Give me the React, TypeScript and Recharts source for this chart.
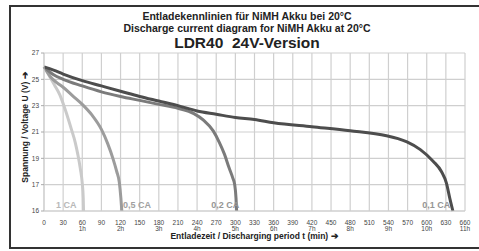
import React from "react";
import {
  LineChart,
  Line,
  XAxis,
  YAxis,
  CartesianGrid,
  ReferenceDot,
} from "recharts";

// discharge curves: time (min) / voltage (V)
const oneCaT = [0, 8, 16, 25, 34, 43, 49, 53, 57, 60, 61.5, 62];
const oneCaV = [25.95, 25.3, 24.6, 23.8, 22.6, 21.2, 20.2, 19.3, 18.2, 17.1, 16.5, 16];

const halfCaT = [0, 10, 20, 30, 45, 60, 75, 90, 100, 108, 114, 118, 120.5, 122];
const halfCaV = [25.95, 25.2, 24.75, 24.4, 23.75, 23.1, 22.3, 21.2, 20.1, 19.0, 18.0, 17.2, 16.5, 16];

const fifthCaT = [0, 15, 30, 60, 90, 120, 150, 180, 210, 235, 250, 265, 275, 283, 290, 296, 299, 301, 302];
const fifthCaV = [25.95, 25.35, 25.0, 24.5, 24.05, 23.7, 23.4, 23.1, 22.8, 22.4, 21.9, 21.1, 20.2, 19.3, 18.3, 17.5, 17.0, 16.5, 16];

const tenthCaT = [0, 15, 30, 60, 90, 120, 150, 180, 210, 240, 270, 300, 330, 360, 420, 480, 537, 555, 569, 590, 610, 623, 631, 636, 641];
const tenthCaV = [25.95, 25.7, 25.4, 24.9, 24.5, 24.1, 23.7, 23.35, 23.0, 22.6, 22.35, 22.1, 21.95, 21.7, 21.4, 21.1, 20.72, 20.5, 20.25, 19.66, 18.78, 18.0, 17.1, 16.5, 16];

const seriesNames = ["1 CA", "0,5 CA", "0,2 CA", "0,1 CA"];
const labelT = [35, 146, 284, 615];

const xTicks = [0, 30, 60, 90, 120, 150, 180, 210, 240, 270, 300, 330, 360, 390, 420, 450, 480, 510, 540, 570, 600, 630, 660];
const hourLabels = ["", "", "1h", "", "2h", "", "3h", "", "4h", "", "5h", "", "6h", "", "7h", "", "8h", "", "9h", "", "10h", "", "11h"];

// y axis is broken below 17 V: the 17..16 step takes the same height as 2 V
const yTicks = [15, 17, 19, 21, 23, 25, 27];
const yTickLabels = ["16", "17", "19", "21", "23", "25", "27"];

const toAxis = (v: number) => (v >= 17 ? v : 17 - 2 * (17 - v));
const build = (ts: number[], vs: number[]) => ts.map((t, i) => ({ t, v: toAxis(vs[i]) }));

const curves = [
  { data: build(oneCaT, oneCaV), color: "#cacaca", label: "#b8b8b8" },
  { data: build(halfCaT, halfCaV), color: "#9c9c9c", label: "#a0a0a0" },
  { data: build(fifthCaT, fifthCaV), color: "#7b7b7b", label: "#959595" },
  { data: build(tenthCaT, tenthCaV), color: "#4d4d4d", label: "#959595" },
];

const FONT = "'Liberation Sans Narrow', 'Liberation Sans', Arial, sans-serif";

const XTick = (props: any) => {
  const { x, y, payload } = props;
  const i = xTicks.indexOf(payload.value);
  return (
    <g>
      <text x={x} y={y + 6} textAnchor="middle" fontSize={6.5} fill="#444" fontFamily={FONT}>
        {payload.value}
      </text>
      {hourLabels[i] ? (
        <text x={x} y={y + 12} textAnchor="middle" fontSize={6.5} fill="#444" fontFamily={FONT}>
          {hourLabels[i]}
        </text>
      ) : null}
    </g>
  );
};

export default function App() {
  return (
    <div style={{ position: "relative", width: 479, height: 251, background: "#fff", fontFamily: FONT }}>
      <style>{`body{margin:0}`}</style>
      <LineChart
        width={479}
        height={251}
        margin={{ top: 53, right: 14, bottom: 0, left: 0 }}
        style={{ position: "absolute", left: 0, top: 0 }}
      >
        <CartesianGrid stroke="#cfcfcf" strokeWidth={1.2} />
        <XAxis
          type="number"
          dataKey="t"
          domain={[0, 660]}
          ticks={xTicks}
          interval={0}
          height={40}
          tick={<XTick />}
          tickLine={false}
          axisLine={{ stroke: "#cfcfcf" }}
          label={{
            value: "Entladezeit / Discharging period t (min) \u2794",
            position: "insideBottom",
            offset: 12,
            fontSize: 8.5,
            fontWeight: "bold",
            fill: "#222",
            fontFamily: FONT,
          }}
        />
        <YAxis
          type="number"
          dataKey="v"
          domain={[15, 27]}
          ticks={yTicks}
          interval={0}
          width={44}
          tickSize={3}
          tickLine={{ stroke: "#aaa" }}
          axisLine={{ stroke: "#cfcfcf" }}
          tickFormatter={(v: number) => yTickLabels[yTicks.indexOf(v)]}
          tick={{ fontSize: 6.5, fill: "#444", fontFamily: FONT }}
          label={{
            value: "Spannung / Voltage U (V) \u2794",
            angle: -90,
            position: "insideLeft",
            offset: 25,
            dy: -5,
            fontSize: 8.5,
            fontWeight: "bold",
            fill: "#222",
            fontFamily: FONT,
            style: { textAnchor: "middle" },
          }}
        />
        {curves.map((c, i) => (
          <Line
            key={seriesNames[i]}
            data={c.data}
            dataKey="v"
            type="monotone"
            stroke={c.color}
            strokeWidth={3}
            dot={false}
            isAnimationActive={false}
          />
        ))}
        {curves.map((c, i) => (
          <ReferenceDot
            key={"l" + i}
            x={labelT[i]}
            y={15.5}
            r={0}
            fill="none"
            stroke="none"
            label={{
              value: seriesNames[i],
              position: "center",
              fontSize: 9,
              fontWeight: "bold",
              fill: c.label,
              fontFamily: FONT,
            }}
          />
        ))}
      </LineChart>
      <div
        style={{
          position: "absolute",
          left: 9,
          top: 5,
          width: 479 - 9,
          height: 249 - 5,
          borderLeft: "2px solid #333",
          borderTop: "2px solid #333",
          borderBottom: "2px solid #333",
          boxSizing: "border-box",
          pointerEvents: "none",
        }}
      />
      <div
        style={{
          position: "absolute",
          left: 9,
          width: 476,
          top: 10,
          textAlign: "center",
          fontWeight: "bold",
          color: "#222",
          lineHeight: "12px",
          fontSize: 10.5,
        }}
      >
        <div>Entladekennlinien für NiMH Akku bei 20°C</div>
        <div>Discharge current diagram for NiMH Akku at 20°C</div>
        <div style={{ fontSize: 15.5, lineHeight: "17px" }}>LDR40&nbsp; 24V-Version</div>
      </div>
    </div>
  );
}
